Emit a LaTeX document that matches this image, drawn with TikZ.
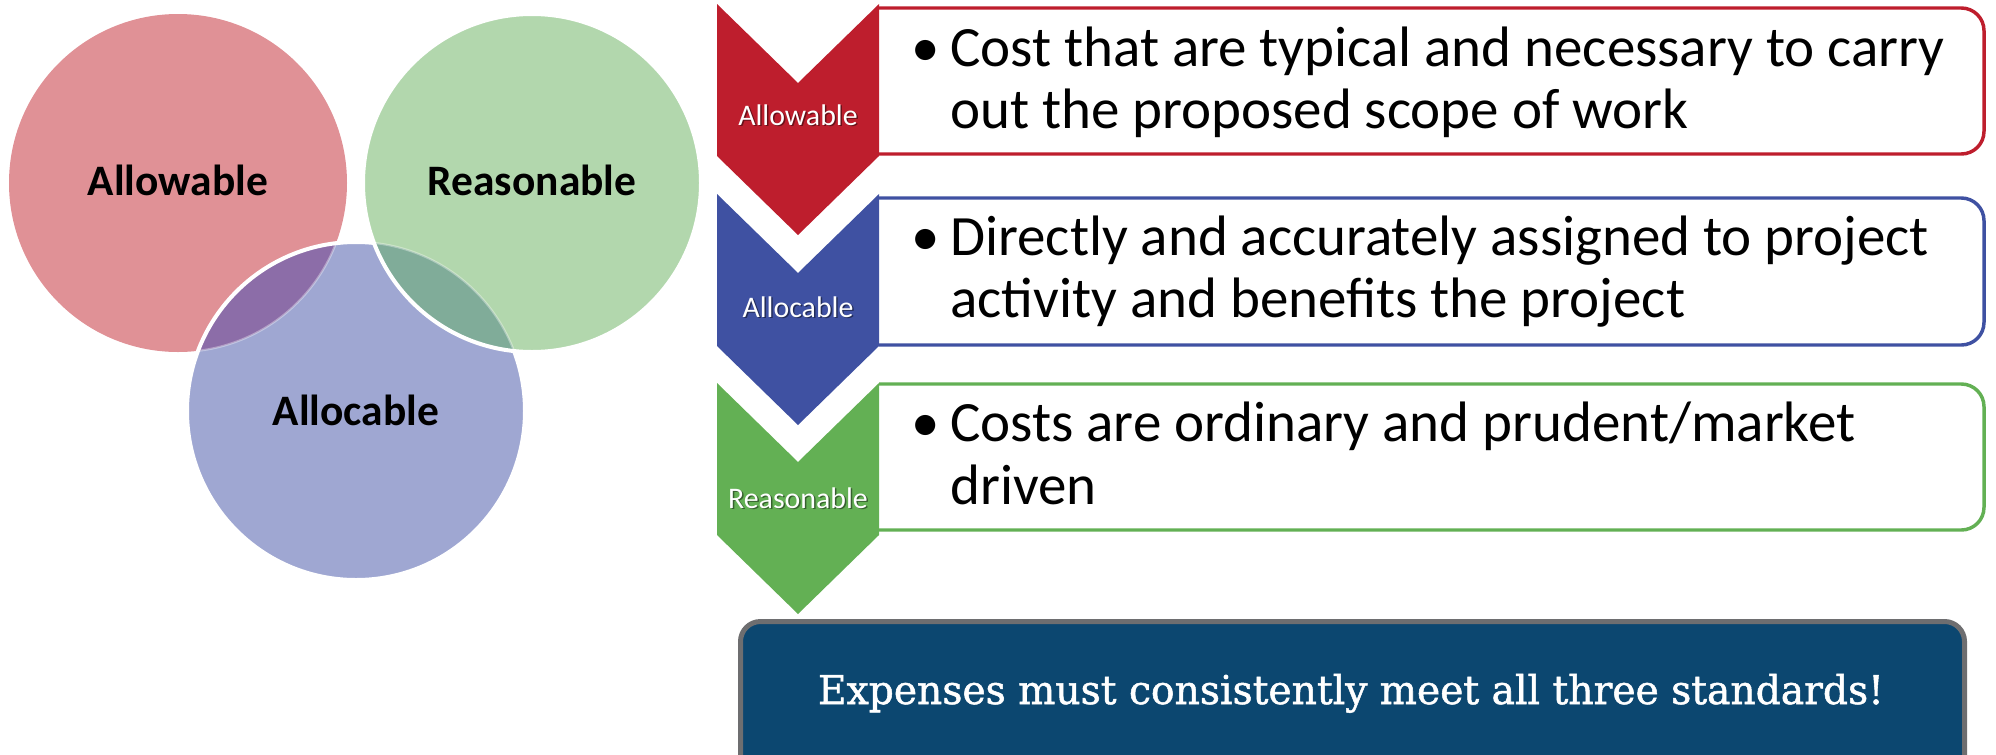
\documentclass[tikz,border=0pt]{standalone}
\usepackage{fontspec}
\usepackage{graphicx}
\setmainfont{Carlito}
\newfontfamily\slabfont[FakeBold=1.2]{DejaVu Serif Condensed}

\definecolor{vpink}{HTML}{E09196}
\definecolor{vgreen}{HTML}{B2D7AD}
\definecolor{vblue}{HTML}{9FA7D2}
\definecolor{vpurple}{HTML}{8C6DA8}
\definecolor{vteal}{HTML}{80AC99}
\definecolor{cred}{HTML}{BE1E2D}
\definecolor{cblue}{HTML}{3F51A2}
\definecolor{cgreen}{HTML}{63B054}
\definecolor{navyfill}{HTML}{0C4770}
\definecolor{navyedge}{HTML}{6E6E70}

\tikzset{
  venntext/.style={font=\fontsize{32.6}{36}\selectfont\bfseries, text=black, inner sep=0pt},
  chevtext/.style={font=\fontsize{22.4}{26}\selectfont, text=white, inner sep=0pt, anchor=base},
  chevshadow/.style={font=\fontsize{22.4}{26}\selectfont, text=black, opacity=0.45, inner sep=0pt, anchor=base},
  bodytext/.style={font=\fontsize{42.75}{50}\selectfont, text=black, inner sep=0pt, anchor=base west},
  framebox/.style={line width=2.6pt, rounded corners=17pt},
}

% chevron with its top-left corner at (717,#1)
\newcommand{\chevronshape}[2]{%
  \fill[#2] (717,#1) -- (798,#1+79) -- (879,#1) -- (879,#1+152)
    -- (798,#1+231) -- (717,#1+152) -- cycle;}

\begin{document}
\begin{tikzpicture}[x=0.75pt,y=-0.75pt]
\useasboundingbox (0,0) rectangle (1996,754);
\clip (0,0) rectangle (1996,754);

% ---------------- Venn diagram ----------------
\def\vr{126.75pt}
\coordinate (cR) at (178,183);
\coordinate (cG) at (532,183);
\coordinate (cB) at (356,411);

\fill[vpink] (cR) circle[radius=\vr];
\fill[vblue] (cB) circle[radius=\vr];
\begin{scope}
  \clip (cR) circle[radius=\vr];
  \fill[vpurple] (cB) circle[radius=\vr];
\end{scope}
\begin{scope}
  \clip (cB) circle[radius=\vr];
  \draw[white, opacity=0.35, line width=1.6pt] (cR) circle[radius=\vr];
\end{scope}
\draw[white, line width=3pt] (cB) circle[radius=\vr];

\fill[vgreen] (cG) circle[radius=\vr];
\begin{scope}
  \clip (cB) circle[radius=\vr];
  \fill[vteal] (cG) circle[radius=\vr];
\end{scope}
\begin{scope}
  \clip (cG) circle[radius=\vr];
  \draw[white, opacity=0.35, line width=1.6pt] (cB) circle[radius=\vr];
\end{scope}
\draw[white, line width=3pt] (cG) circle[radius=\vr];

\node[venntext, anchor=base] (vAllow) at (178,195) {Allowable};
\node[venntext, anchor=base] (vReas) at (532,195) {Reasonable};
\node[venntext, anchor=base] (vAlloc) at (356,425) {Allocable};

% ---------------- framed descriptions ----------------
\draw[framebox, cred]   (879,8)   -- (1984,8)   -- (1984,154) -- (879,154);
\draw[framebox, cblue]  (879,198) -- (1984,198) -- (1984,345) -- (879,345);
\draw[framebox, cgreen] (879,384) -- (1984,384) -- (1984,530) -- (879,530);

% ---------------- chevrons ----------------
\chevronshape{4}{cred}
\chevronshape{194}{cblue}
\chevronshape{383}{cgreen}

\node[chevshadow] at (799.5,126.5) {Allowable};
\node[chevtext] (kAllow) at (798,125) {Allowable};
\node[chevshadow] at (799.5,318.5) {Allocable};
\node[chevtext] (kAlloc) at (798,317) {Allocable};
\node[chevshadow] at (799.5,509.5) {Reasonable};
\node[chevtext] (kReas) at (798,508) {Reasonable};

% ---------------- bullet texts ----------------
\node[bodytext] (b1) at (911,66) {\textbullet};
\node[bodytext] (t1a) at (950,66) {Cost that are typical and necessary to carry};
\node[bodytext] (t1b) at (950,128.5) {out the proposed scope of work};

\node[bodytext] (b2) at (911,255) {\textbullet};
\node[bodytext] (t2a) at (950,255) {Directly and accurately assigned to project};
\node[bodytext] (t2b) at (950,317) {activity and benefits the project};

\node[bodytext] (b3) at (911,441) {\textbullet};
\node[bodytext] (t3a) at (950,441) {Costs are ordinary and prudent/market};
\node[bodytext] (t3b) at (950,504) {driven};

% ---------------- summary banner ----------------
\draw[line width=3.75pt, draw=navyedge, fill=navyfill, rounded corners=15pt]
  (740.5,621.5) rectangle (1964.5,820);
\node[inner sep=0pt, anchor=base, text=white,
      font=\slabfont\fontsize{29.8}{34}\selectfont] (summary) at (1351,704)
  {\resizebox{799.5pt}{\height}{Expenses must consistently meet all three standards!}};
\end{tikzpicture}
\end{document}
